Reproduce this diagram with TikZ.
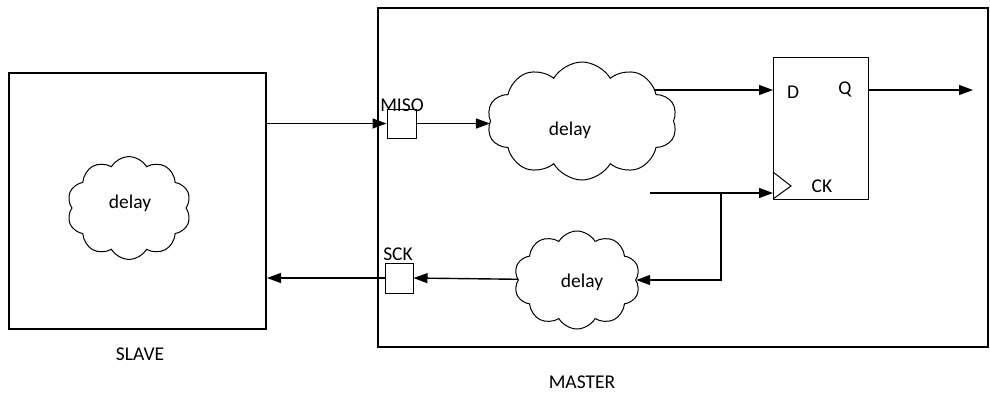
\documentclass[tikz,border=0pt]{standalone}
\usepackage{fontspec}
\setmainfont{Carlito}
\usetikzlibrary{shapes.symbols,arrows.meta,backgrounds}
\tikzset{
  blk/.style={draw, line width=2pt, inner sep=0pt},
  pin/.style={draw, line width=1pt, fill=white, minimum width=29pt, minimum height=29pt, inner sep=0pt},
  cld/.style={draw, fill=white, cloud, cloud puffs=10, cloud puff arc=120, cloud ignores aspect, line width=1pt, inner sep=0pt},
  lbl/.style={font=\fontsize{19.5}{22}\selectfont, inner sep=0pt},
  arr/.style={line width=1.4pt, -{Triangle[length=14pt,width=10pt]}},
}
\begin{document}
\begin{tikzpicture}[x=1pt,y=-1pt]
\useasboundingbox (0,0) rectangle (990,394);
% blocks
\node[blk, minimum width=257pt, minimum height=256pt] (slave) at (137.5,201) {};
\node[lbl] (slavelbl) at (140,354) {SLAVE};
\node[blk, minimum width=610pt, minimum height=339pt] (master) at (683,177.5) {};
\node[lbl] (masterlbl) at (582,382) {MASTER};
% clouds
\node[cld, minimum width=124pt, minimum height=103pt] (scl) at (129,208) {};
\node[lbl] (scltxt) at (130,203) {delay};
\node[cld, minimum width=190pt, minimum height=118pt] (up) at (582,121) {};
\node[lbl] (uptxt) at (570,130) {delay};
\node[cld, minimum width=126pt, minimum height=98pt] (low) at (577,280) {};
\node[lbl] (lowtxt) at (582,282) {delay};
% pins
\node[pin] (miso) at (401.5,123.5) {};
\node[lbl, anchor=south] (misolbl) at (402,112) {MISO};
\node[pin, minimum width=28pt, minimum height=30pt] (sck) at (399,278) {};
\node[lbl, anchor=south] (scklbl) at (398,261) {SCK};
% flip-flop
\node[draw, line width=1pt, minimum width=95pt, minimum height=142pt, inner sep=0pt] (ff) at (820.5,128) {};
\node[lbl] (dlbl) at (793,92) {D};
\node[lbl] (qlbl) at (845,89) {Q};
\node[lbl] (cklbl) at (822,186) {CK};
\draw[line width=1pt] (773,172) -- (791,186) -- (773,199);
\coordinate (din) at (773,90);
\coordinate (qout) at (868,90);
\coordinate (qend) at (973,90);
\coordinate (ckin) at (773,193);
\coordinate (ckstart) at (650,193);
\coordinate (br) at (721,193);
% connectors
\begin{scope}[on background layer]
\draw[arr] (up.center |- din) -- (din);
\draw[arr] (low.center) -- (sck.east);
\end{scope}
\draw[arr] (slave.east |- miso.west) -- (miso.west);
\draw[arr] (miso.east) -- (up.west |- miso.east);
\draw[arr] (br) |- (low.east);
\draw[arr] (qout) -- (qend);
\draw[arr] (ckstart) -- (ckin);
\draw[arr] (sck.west) -- (slave.east |- sck.west);
\end{tikzpicture}
\end{document}
